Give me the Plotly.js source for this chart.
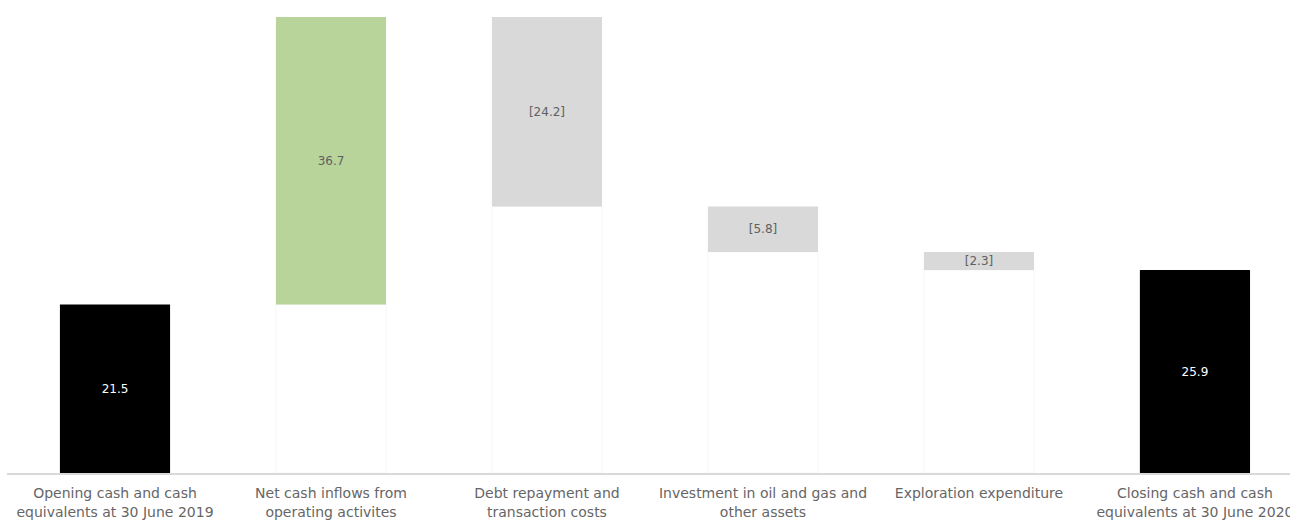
<!DOCTYPE html>
<html>
<head>
<meta charset="utf-8">
<script src="https://cdn.plot.ly/plotly-3.0.1.min.js"></script>
<style>html,body{margin:0;padding:0;background:#fff;}#chart{width:1290px;height:522px;}</style>
</head>
<body>
<div id="chart"></div>
<script>
const categories = [
  "Opening cash and cash<br>equivalents at 30 June 2019",
  "Net cash inflows from<br>operating activites",
  "Debt repayment and<br>transaction costs",
  "Investment in oil and gas and<br>other assets",
  "Exploration expenditure",
  "Closing cash and cash<br>equivalents at 30 June 2020"
];
const values = [21.5, 36.7, -24.2, -5.8, -2.3, 25.9];
const kinds = ["total", "increase", "decrease", "decrease", "decrease", "total"];
const labels = ["21.5", "36.7", "[24.2]", "[5.8]", "[2.3]", "25.9"];

const colorMap = {total: "#000000", increase: "#b8d49a", decrease: "#d9d9d9"};
const textColorMap = {total: "#ffffff", increase: "#606060", decrease: "#606060"};

// compute floating bar bases from running total
let running = 0;
const bases = [], heights = [];
values.forEach((v, i) => {
  if (kinds[i] === "total") { bases.push(0); heights.push(v); running = v; }
  else if (v >= 0) { bases.push(running); heights.push(v); running += v; }
  else { running += v; bases.push(running); heights.push(-v); }
});
const xs = categories.map((c, i) => i);
const FONT = "DejaVu Sans, sans-serif";

const baseTrace = {
  type: "bar", x: xs, y: bases, width: 0.51,
  marker: {color: "rgba(255,255,255,0)", line: {color: "#f7f7f7", width: 1}},
  hoverinfo: "skip", showlegend: false
};
const mainTrace = {
  type: "bar", x: xs, y: heights, base: bases, width: 0.51,
  marker: {color: kinds.map(k => colorMap[k]), line: {width: 0}},
  text: labels, textposition: "inside", insidetextanchor: "middle",
  textangle: 0, constraintext: "none", cliponaxis: false,
  textfont: {family: FONT, size: 12, color: kinds.map(k => textColorMap[k])},
  showlegend: false
};
const layout = {
  width: 1290, height: 522,
  margin: {l: 7, r: 0, t: 17, b: 49},
  paper_bgcolor: "#ffffff", plot_bgcolor: "#ffffff",
  barmode: "overlay",
  xaxis: {
    range: [-0.5, 5.44], tickvals: xs, ticktext: categories,
    showgrid: false, zeroline: false, showline: true, linecolor: "#d9d9d9", linewidth: 1.5,
    ticks: "", ticklabelstandoff: 7, ticklabeloverflow: "allow",
    tickfont: {family: FONT, size: 14, color: "#666666"}
  },
  yaxis: {range: [0, 58.2], visible: false, showgrid: false, zeroline: false},
  font: {family: FONT}
};
Plotly.newPlot("chart", [baseTrace, mainTrace], layout, {displayModeBar: false, staticPlot: true});
</script>
</body>
</html>
